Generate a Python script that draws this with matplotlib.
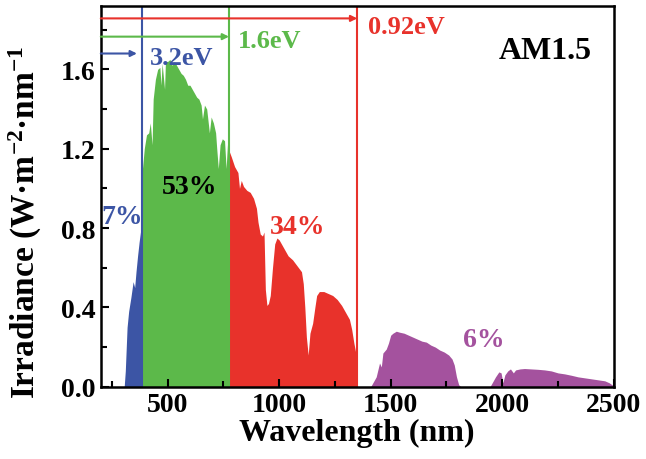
import numpy as np
import matplotlib
matplotlib.use("Agg")
import matplotlib.pyplot as plt
from matplotlib.ticker import MultipleLocator

plt.rcParams['font.family'] = ['Liberation Serif', 'DejaVu Serif']
plt.rcParams['font.weight'] = 'bold'
plt.rcParams['axes.labelweight'] = 'bold'
plt.rcParams['mathtext.fontset'] = 'custom'
plt.rcParams['mathtext.rm'] = 'Liberation Serif:bold'
plt.rcParams['mathtext.it'] = 'Liberation Serif:bold'
plt.rcParams['mathtext.bf'] = 'Liberation Serif:bold'

# AM1.5 spectrum, split by band (nm, W m-2 nm-1)
uv_wl = [305, 310, 318, 325, 335, 345, 352, 358, 365, 372, 378, 383, 387]
uv_irr = [0.0, 0.08, 0.30, 0.38, 0.45, 0.53, 0.50, 0.58, 0.66, 0.73, 0.78, 0.82, 0.85]

vis_wl = [387, 395, 405, 415, 422, 430, 435, 445, 455, 465, 470, 475, 486, 490,
          500, 510, 520, 530, 540, 550, 560, 570, 580, 590, 600, 610, 620, 630,
          640, 650, 656, 665, 675, 687, 695, 705, 715, 720, 727, 735, 745, 755,
          762, 768, 775]
vis_irr = [1.10, 1.20, 1.27, 1.28, 1.33, 1.22, 1.45, 1.55, 1.60, 1.61, 1.52, 1.63, 1.50, 1.64,
           1.64, 1.65, 1.62, 1.64, 1.62, 1.60, 1.58, 1.57, 1.55, 1.52, 1.52, 1.50, 1.48, 1.46,
           1.45, 1.42, 1.35, 1.42, 1.40, 1.28, 1.36, 1.33, 1.28, 1.20, 1.10, 1.22, 1.25, 1.24,
           1.10, 1.22, 1.20]

nir_wl = [775, 785, 800, 815, 822, 830, 840, 855, 870, 885, 898, 905, 915, 925,
          932, 938, 945, 952, 960, 970, 980, 990, 1000, 1020, 1040, 1060, 1080,
          1100, 1108, 1115, 1122, 1130, 1138, 1150, 1160, 1168, 1180, 1200, 1220,
          1240, 1260, 1280, 1300, 1315, 1325, 1335, 1347, 1350]
nir_irr = [1.19, 1.16, 1.11, 1.08, 1.00, 1.04, 1.01, 0.99, 0.98, 0.95, 0.90, 0.83, 0.77, 0.76,
           0.78, 0.49, 0.41, 0.42, 0.46, 0.60, 0.72, 0.75, 0.74, 0.70, 0.66, 0.64, 0.61,
           0.58, 0.52, 0.40, 0.25, 0.16, 0.27, 0.32, 0.40, 0.46, 0.48, 0.48, 0.47,
           0.46, 0.44, 0.41, 0.37, 0.34, 0.29, 0.22, 0.15, 0.0]

ir_wl = [1410, 1420, 1435, 1450, 1458, 1465, 1480, 1490, 1500, 1510, 1525, 1540,
         1560, 1580, 1600, 1620, 1640, 1660, 1680, 1700, 1720, 1740, 1760, 1775,
         1785, 1795, 1805, 1815, 1945, 1955, 1970, 1985, 1995, 2003, 2012, 2025,
         2037, 2050, 2060, 2080, 2100, 2130, 2160, 2190, 2220, 2250, 2280, 2310,
         2340, 2370, 2400, 2430, 2460, 2480, 2495, 2500]
ir_irr = [0.0, 0.02, 0.05, 0.12, 0.10, 0.17, 0.19, 0.22, 0.26, 0.27, 0.28, 0.275,
          0.27, 0.26, 0.25, 0.24, 0.23, 0.225, 0.21, 0.20, 0.185, 0.175, 0.16, 0.14,
          0.11, 0.05, 0.01, 0.0, 0.0, 0.02, 0.05, 0.075, 0.07, 0.02, 0.06, 0.08,
          0.09, 0.07, 0.085, 0.09, 0.092, 0.09, 0.088, 0.085, 0.08, 0.07, 0.065, 0.058,
          0.05, 0.045, 0.04, 0.035, 0.03, 0.02, 0.008, 0.0]

# band edges (nm) and labels
edges = [387, 775, 1350]
edge_labels = ['3.2eV', '1.6eV', '0.92eV']
arrow_y = [1.68, 1.765, 1.857]
arrow_end = [362, 775, 1350]
shares = ['7%', '53%', '34%', '6%']

blue = '#3c55a5'
green = '#5cb94a'
red = '#e8322b'
purple = '#a4529e'

fig = plt.figure(figsize=(6.46, 4.6), dpi=100)
ax = fig.add_axes([0.156, 0.157, 0.794, 0.828])

ax.fill_between(uv_wl, uv_irr, color=blue, lw=0)
ax.fill_between(vis_wl, vis_irr, color=green, lw=0)
ax.fill_between(nir_wl, nir_irr, color=red, lw=0)
ax.fill_between(ir_wl, ir_irr, color=purple, lw=0)

line_cols = [blue, green, red]
for x, c, y, xe in zip(edges, line_cols, arrow_y, arrow_end):
    ax.axvline(x, color=c, lw=1.5)
    ax.annotate('', xy=(xe, y), xytext=(200, y),
                arrowprops=dict(arrowstyle='-|>', color=c, lw=1.5,
                                mutation_scale=9, shrinkA=0, shrinkB=0))

ax.text(420, 1.66, edge_labels[0], color=blue, fontsize=19, ha='left', va='center')
ax.text(815, 1.746, edge_labels[1], color=green, fontsize=19, ha='left', va='center')
ax.text(1400, 1.816, edge_labels[2], color=red, fontsize=19, ha='left', va='center')
ax.text(2195, 1.696, 'AM1.5', color='black', fontsize=23, ha='center', va='center')

ax.text(297, 0.86, shares[0], color=blue, fontsize=20, ha='center', va='center')
ax.text(598, 1.01, shares[1], color='black', fontsize=20, ha='center', va='center')
ax.text(1083, 0.81, shares[2], color=red, fontsize=20, ha='center', va='center')
ax.text(1916, 0.236, shares[3], color=purple, fontsize=20, ha='center', va='center')

ax.set_xlim(200, 2500)
ax.set_ylim(0, 1.92)
ax.xaxis.set_major_locator(MultipleLocator(500))
ax.xaxis.set_minor_locator(MultipleLocator(250))
ax.yaxis.set_major_locator(MultipleLocator(0.4))
ax.yaxis.set_minor_locator(MultipleLocator(0.2))
ax.yaxis.set_major_formatter(plt.FormatStrFormatter('%.1f'))
ax.tick_params(which='both', direction='in', top=False, right=False, width=1.5, labelsize=20)
ax.tick_params(which='major', length=6)
ax.tick_params(which='minor', length=4)
for s in ax.spines.values():
    s.set_linewidth(1.8)

ax.set_xlabel('Wavelength (nm)', fontsize=23, labelpad=1)
ax.set_ylabel('Irradiance (W\u00b7m$^{-2}$\u00b7nm$^{-1}$', fontsize=24)
ax.yaxis.set_label_coords(-0.11, 0.435)

fig.savefig('out.png', dpi=100)
